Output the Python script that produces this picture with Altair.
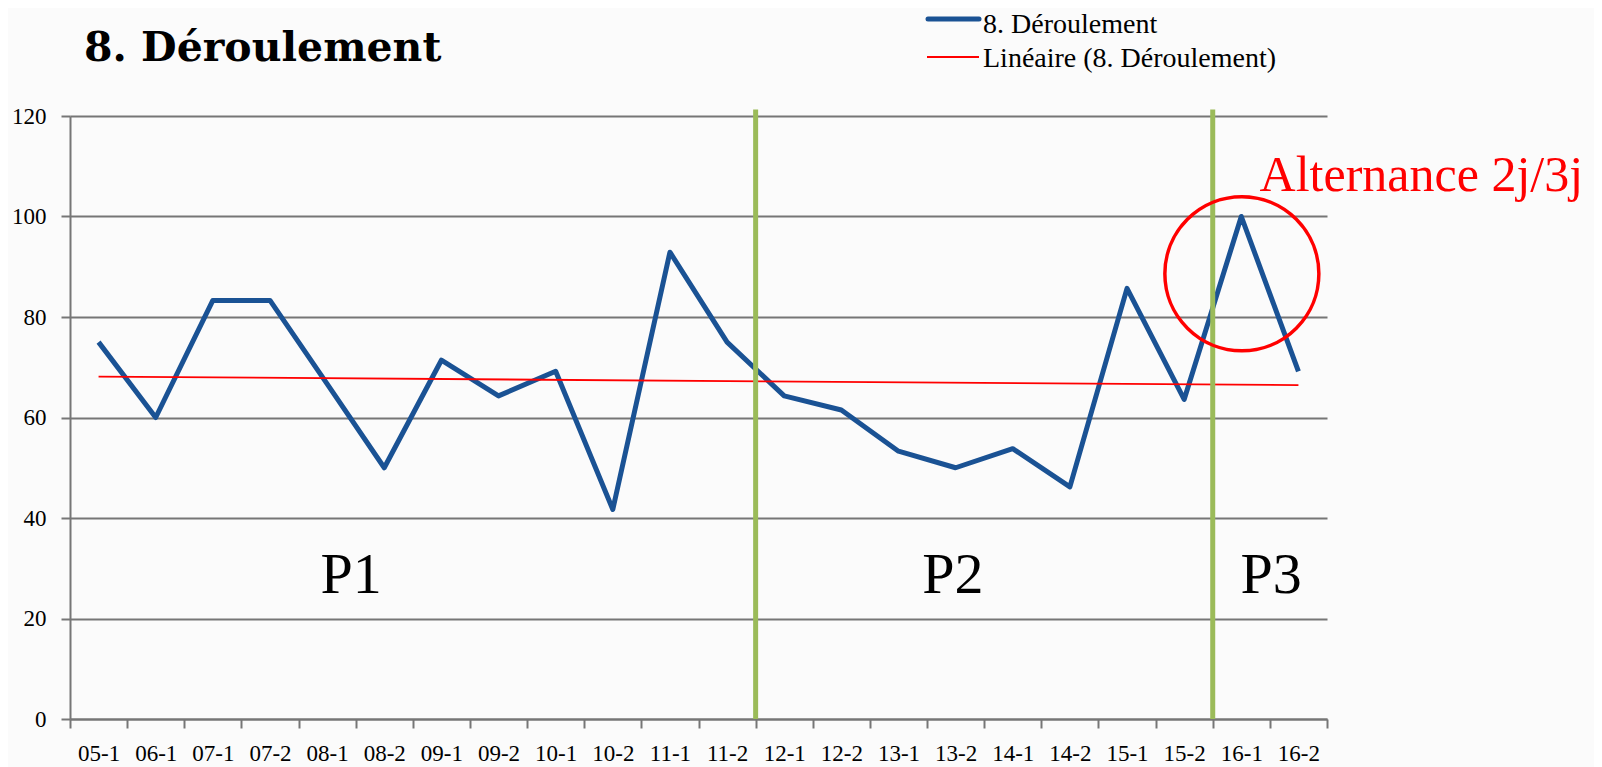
import json
import altair as alt
import pandas as pd

# ---- data ----
categories = ["05-1", "06-1", "07-1", "07-2", "08-1", "08-2", "09-1", "09-2", "10-1", "10-2", "11-1",
              "11-2", "12-1", "12-2", "13-1", "13-2", "14-1", "14-2", "15-1", "15-2", "16-1", "16-2"]
values = [75.0, 60.0, 83.3, 83.3, 66.7, 50.0, 71.4, 64.3, 69.2, 41.7, 92.9,
          75.0, 64.3, 61.5, 53.3, 50.0, 53.8, 46.2, 85.7, 63.6, 100.0, 69.2]
y_ticks = [0, 20, 40, 60, 80, 100, 120]
series_name = "8. Déroulement"
trend_name = "Linéaire (8. Déroulement)"

# period separators (band boundaries) and period labels
period_bounds = [12, 20]
period_labels = ["P1", "P2", "P3"]
period_label_x = [4.92, 15.45, 21.02]
period_label_y = [25.0, 25.0, 25.0]

# highlighted zone
highlight_x = 20.51
highlight_y = 88.6
highlight_text = "Alternance 2j/3j"
highlight_text_x = 20.82
highlight_text_y = 105.0

n = len(categories)
df = pd.DataFrame({"cat": categories, "value": values, "pos": [i + 0.5 for i in range(n)]})
df_bounds = pd.DataFrame({"b": period_bounds})
df_periods = pd.DataFrame({"label": period_labels, "px": period_label_x, "py": period_label_y})
one = pd.DataFrame({"k": [0]})

W, H = 1257, 603
band = W / n
FONT = "Liberation Serif"
GRID = "#767676"

xs = alt.Scale(domain=[0, n], nice=False, zero=False)
ys = alt.Scale(domain=[0, 120], nice=False, zero=False)

label_expr = "datum.value < %d ? %s[datum.value] : ''" % (n, json.dumps(categories))

x_axis = alt.Axis(values=list(range(n + 1)), labelExpr=label_expr, labelOffset=band / 2,
                  grid=False, tickSize=9, tickColor=GRID, tickWidth=2, domainColor=GRID,
                  domainWidth=2, title=None, labelFont=FONT, labelFontSize=23,
                  labelColor="#000000", labelPadding=14, labelOverlap=False, labelFlush=False)
y_axis = alt.Axis(values=y_ticks, grid=True, gridColor=GRID, gridWidth=2, domainColor=GRID,
                  domainWidth=2, tickColor=GRID, tickWidth=2, tickSize=9, title=None,
                  labelFont=FONT, labelFontSize=23, labelColor="#000000", labelPadding=15)

line = alt.Chart(df).mark_line(color="#1A5294", strokeWidth=5, strokeJoin="round").encode(
    x=alt.X("pos:Q", scale=xs, axis=x_axis),
    y=alt.Y("value:Q", scale=ys, axis=y_axis),
)

trend = alt.Chart(df).transform_regression("pos", "value").mark_line(
    color="#FF0000", strokeWidth=1.8).encode(x="pos:Q", y="value:Q")

rules = alt.Chart(df_bounds).mark_rule(color="#9BBB59", strokeWidth=5).encode(
    x="b:Q", y=alt.datum(0), y2=alt.datum(121.3))

circle = alt.Chart(one).mark_point(shape="circle", size=23716, filled=False, color="#FF0000",
                                   strokeWidth=3.5, opacity=1).encode(
    x=alt.datum(highlight_x), y=alt.datum(highlight_y))

alt_text = alt.Chart(one).mark_text(text=highlight_text, align="left", baseline="alphabetic",
                                    font=FONT, fontSize=50, color="#FF0000").encode(
    x=alt.datum(highlight_text_x), y=alt.datum(highlight_text_y))

periods = alt.Chart(df_periods).mark_text(align="center", baseline="alphabetic", font=FONT,
                                          fontSize=58, color="#000000").encode(
    x="px:Q", y="py:Q", text="label:N")

title = alt.Chart(one).mark_text(text=series_name, align="left", baseline="alphabetic",
                                 font="DejaVu Serif", fontWeight="bold", fontSize=41,
                                 color="#000000").encode(x=alt.value(14), y=alt.value(-55))

leg_line1 = alt.Chart(one).mark_rule(color="#1A5294", strokeWidth=5, strokeCap="round").encode(
    x=alt.value(858), x2=alt.value(909), y=alt.value(-97))
leg_line2 = alt.Chart(one).mark_rule(color="#FF0000", strokeWidth=1.8).encode(
    x=alt.value(857), x2=alt.value(909), y=alt.value(-59))
leg_text1 = alt.Chart(one).mark_text(text=series_name, align="left", baseline="middle",
                                     font=FONT, fontSize=28, color="#000000").encode(
    x=alt.value(913), y=alt.value(-91))
leg_text2 = alt.Chart(one).mark_text(text=trend_name, align="left", baseline="middle",
                                     font=FONT, fontSize=28, color="#000000").encode(
    x=alt.value(913), y=alt.value(-57))

chart = alt.layer(
    line, trend, rules, circle, alt_text, periods, title,
    leg_line1, leg_line2, leg_text1, leg_text2,
).properties(
    width=W, height=H,
    autosize=alt.AutoSizeParams(type="none"),
    padding={"left": 62, "top": 108, "right": 267, "bottom": 49},
).configure(background="#FBFBFB").configure_view(stroke=None)

chart.save("out.html", embed_options={"renderer": "svg", "actions": False})
